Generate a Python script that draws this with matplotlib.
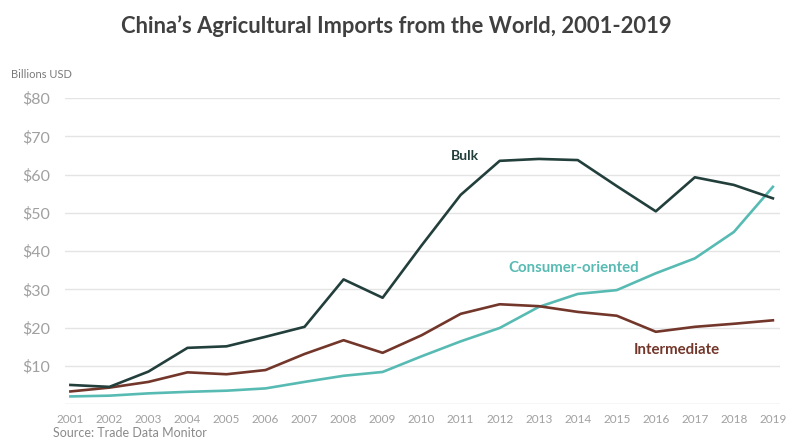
import matplotlib.pyplot as plt

years = list(range(2001, 2020))
bulk = [5.0, 4.5, 8.5, 14.7, 15.1, 17.6, 20.2, 32.6, 27.8, 41.5, 54.7,
        63.6, 64.1, 63.8, 57.0, 50.4, 59.3, 57.3, 53.8]
consumer = [2.0, 2.2, 2.8, 3.2, 3.5, 4.1, 5.8, 7.4, 8.4, 12.5, 16.4,
            19.9, 25.4, 28.8, 29.8, 34.2, 38.1, 45.0, 56.8]
intermediate = [3.3, 4.3, 5.8, 8.3, 7.8, 8.9, 13.1, 16.7, 13.4, 18.0, 23.6,
                26.1, 25.6, 24.1, 23.1, 18.9, 20.2, 21.0, 21.9]
y_ticks = [10, 20, 30, 40, 50, 60, 70, 80]

c_bulk = '#223f3c'
c_cons = '#58bbb3'
c_int = '#73362a'
grid_col = '#e4e4e4'
lab_col = '#a0a0a0'

plt.rcParams['font.family'] = ['Lato', 'DejaVu Sans']

fig = plt.figure(figsize=(7.87, 4.46), dpi=100)
ax = fig.add_axes([0.083, 0.094, 0.908, 0.686])

# linie siatki
for v in y_ticks:
    ax.axhline(v, color=grid_col, lw=1.0, zorder=0)
ax.axhline(0, color='#d6d6d6', lw=1.0, zorder=0)

ax.plot(years, bulk, color=c_bulk, lw=1.9, zorder=3)
ax.plot(years, consumer, color=c_cons, lw=1.9, zorder=2)
ax.plot(years, intermediate, color=c_int, lw=1.9, zorder=2)

ax.set_xlim(2000.87, 2019.18)
ax.set_ylim(0, 80)
ax.set_xticks(years)
ax.set_xticklabels([str(y) for y in years], fontsize=8.5, color=lab_col)
ax.set_yticks(y_ticks)
ax.set_yticklabels([f'${v}' for v in y_ticks], fontsize=11.5, color=lab_col)
ax.tick_params(axis='x', length=0, pad=7)
ax.tick_params(axis='y', length=0, pad=11)
for s in ax.spines.values():
    s.set_visible(False)

# etykiety serii
ax.text(2011.1, 64.8, 'Bulk', color=c_bulk, fontsize=10, fontweight='bold',
        ha='center', va='center')
ax.text(2013.9, 35.6, 'Consumer-oriented', color=c_cons, fontsize=10.8,
        fontweight='bold', ha='center', va='center')
ax.text(2016.55, 14.2, 'Intermediate', color=c_int, fontsize=10.8,
        fontweight='bold', ha='center', va='center')

fig.text(0.503, 0.942, 'China\u2019s Agricultural Imports from the World, 2001-2019',
         ha='center', va='center', fontsize=15.8, fontweight='bold', color='#404040')
fig.text(0.014, 0.832, 'Billions USD', fontsize=8, color='#7a7a7a', va='center')
fig.text(0.067, 0.029, 'Source: Trade Data Monitor', fontsize=9, color='#8a8a8a', va='center')

fig.savefig('out.png', dpi=100, facecolor='white')
